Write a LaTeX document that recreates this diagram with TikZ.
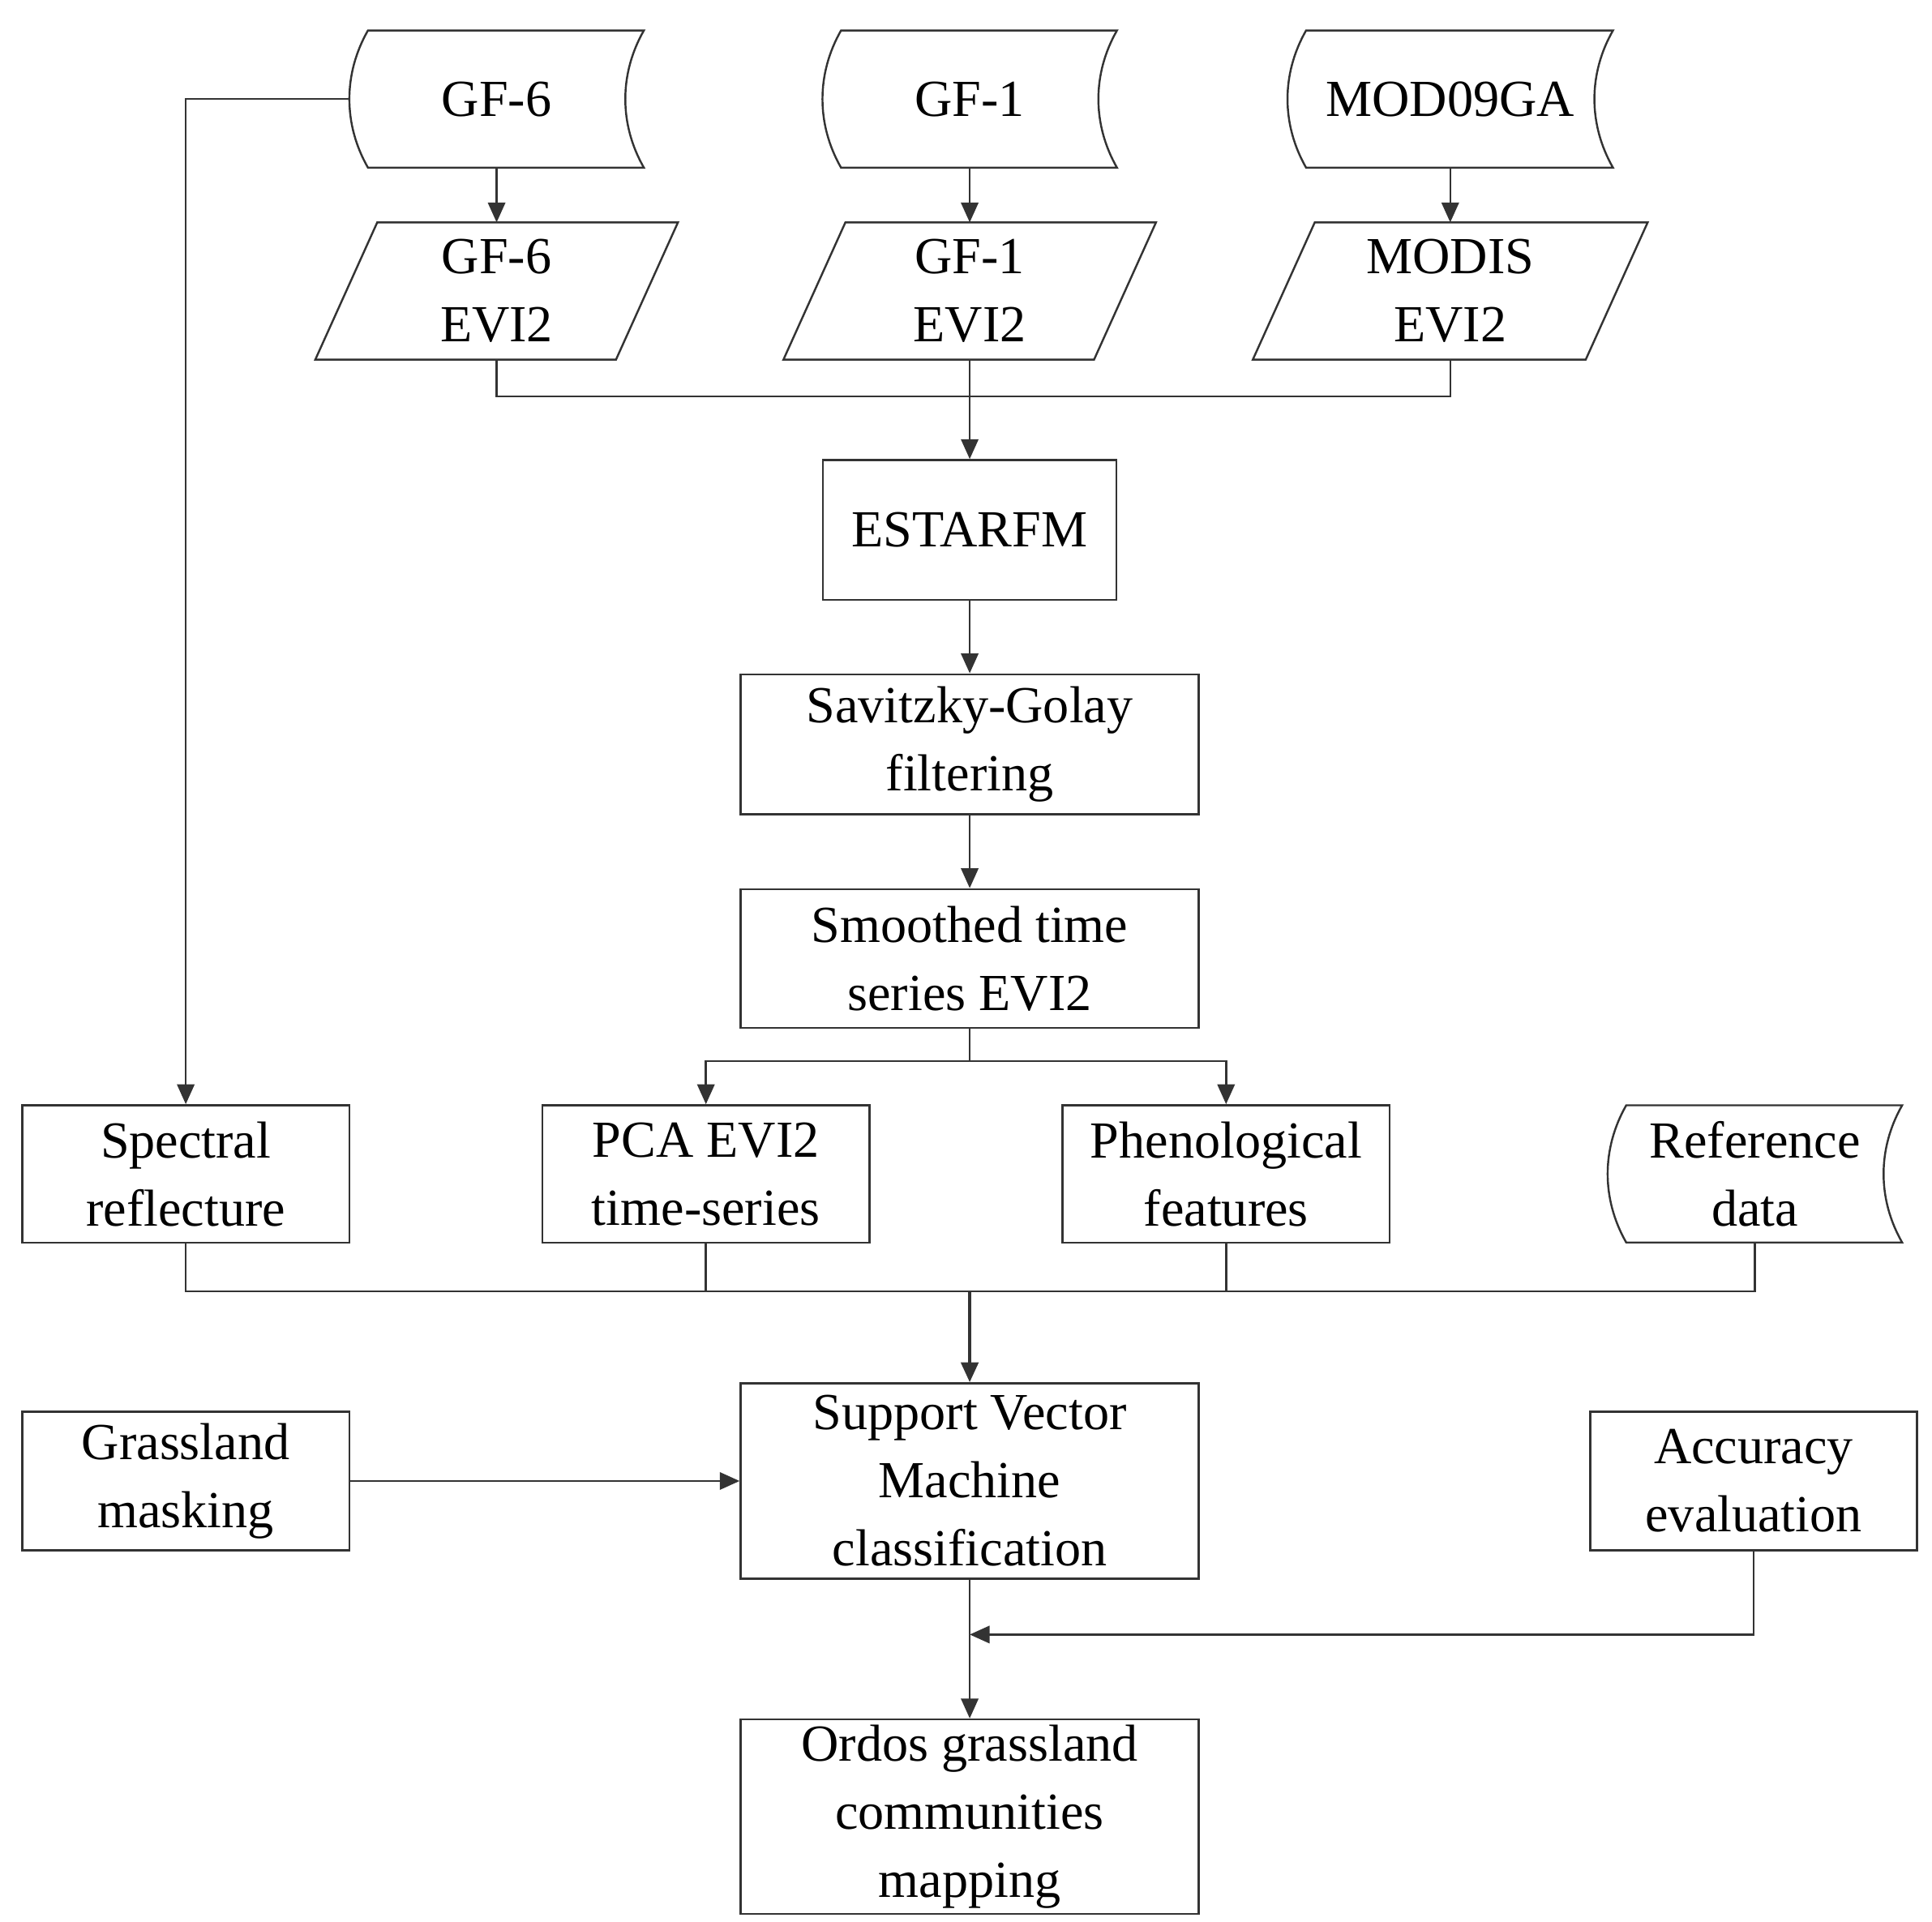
\documentclass[tikz,border=0pt]{standalone}
\usepackage{fontspec}
\setmainfont{Liberation Serif}
\usetikzlibrary{arrows.meta,calc}
\begin{document}
\begin{tikzpicture}[x=0.5pt,y=-0.5pt,
  every node/.style={align=center,font=\fontsize{21}{27.5}\selectfont,inner sep=0pt},
  box/.style={draw=black!80,line width=0.8pt,minimum width=#1*0.5pt},
  ghost/.style={draw=none,minimum width=#1*0.5pt},
  ln/.style={draw=black!80,line width=0.8pt},
  ar/.style={ln,-{Triangle[length=8pt,width=7pt]}}]
\useasboundingbox (0,0) rectangle (1560,1552);
\newcommand{\storedshape}[1]{%
  \draw[ln] ($(#1.north west)+(15,0)$) -- (#1.north east)
    .. controls +(-20,35) and +(-20,-35) .. (#1.south east)
    -- ($(#1.south west)+(15,0)$)
    .. controls +(-20,-35) and +(-20,35) .. ($(#1.north west)+(15,0)$) -- cycle;}
\newcommand{\paragshape}[1]{%
  \draw[ln] ($(#1.north west)+(50,0)$) -- (#1.north east)
    -- ($(#1.south east)+(-50,0)$) -- (#1.south west) -- cycle;}
% stored data
\node[ghost=237,minimum height=55pt] (gf6) at (401,80) {GF-6}; \storedshape{gf6}
\node[ghost=237,minimum height=55pt] (gf1) at (783,80) {GF-1}; \storedshape{gf1}
\node[ghost=262,minimum height=55pt] (mod) at (1171,80) {MOD09GA}; \storedshape{mod}
% parallelograms
\node[ghost=292,minimum height=55pt] (e6) at (401,235) {GF-6\\EVI2}; \paragshape{e6}
\node[ghost=300,minimum height=55pt] (e1) at (783,235) {GF-1\\EVI2}; \paragshape{e1}
\node[ghost=318,minimum height=55pt] (em) at (1171,235) {MODIS\\EVI2}; \paragshape{em}
% process boxes
\node[box=237,minimum height=56.5pt] (est) at (783,428) {ESTARFM};
\node[box=370,minimum height=56.5pt] (sg) at (783,601) {Savitzky-Golay\\filtering};
\node[box=370,minimum height=56pt] (sm) at (783,774) {Smoothed time\\series EVI2};
\node[box=264,minimum height=55.5pt] (sp) at (150,948) {Spectral\\reflecture};
\node[box=264,minimum height=55.5pt] (pca) at (570,948) {PCA EVI2\\time-series};
\node[box=264,minimum height=55.5pt] (phe) at (990,948) {Phenological\\features};
\node[ghost=237,minimum height=55pt] (ref) at (1417,948) {Reference\\data}; \storedshape{ref}
\node[box=370,minimum height=79pt] (svm) at (783,1196) {Support Vector\\Machine\\classification};
\node[box=264,minimum height=56pt] (gm) at (150,1196) {Grassland\\masking};
\node[box=264,minimum height=56pt] (acc) at (1416,1196) {Accuracy\\evaluation};
\node[box=370,minimum height=78.5pt] (ord) at (783,1467) {Ordos grassland\\communities\\mapping};
% connectors
\coordinate (c1) at (150,80);
\draw[ar] (gf6.west) -- (c1) -- (sp.north);
\draw[ar] (gf6) -- (e6);
\draw[ar] (gf1) -- (e1);
\draw[ar] (mod) -- (em);
\coordinate (m1) at (783,320);
\draw[ln] (e6.south) |- (m1) -| (em.south);
\draw[ln] (e1.south) -- (m1);
\draw[ar] (m1) -- (est);
\draw[ar] (est) -- (sg);
\draw[ar] (sg) -- (sm);
\coordinate (m2) at (783,857);
\draw[ln] (sm.south) -- (m2);
\draw[ar] (m2) -| (pca.north);
\draw[ar] (m2) -| (phe.north);
\coordinate (m3) at (783,1043);
\draw[ln] (sp.south) |- (m3) -| (ref.south);
\draw[ln] (pca.south) -- (pca.south |- m3);
\draw[ln] (phe.south) -- (phe.south |- m3);
\draw[ar,line width=1.2pt] (m3) -- (svm.north);
\draw[ar] (gm) -- (svm);
\coordinate (m4) at (783,1320);
\draw[ar] (acc.south) |- (m4);
\draw[ar] (svm) -- (ord);
\end{tikzpicture}
\end{document}
